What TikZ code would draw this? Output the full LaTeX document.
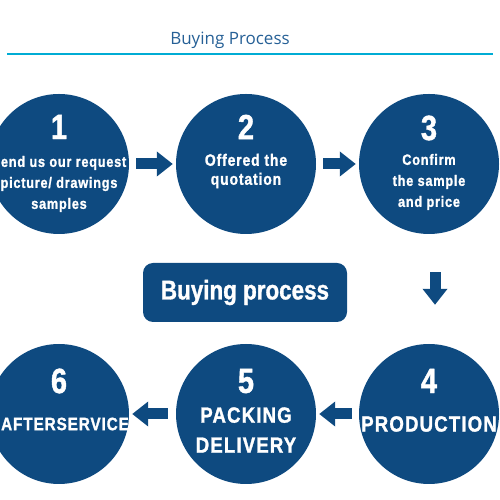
\documentclass[tikz,border=0pt]{standalone}
\usepackage{fontspec}
\usetikzlibrary{arrows.meta,positioning}
\setmainfont{Open Sans}
\newfontfamily\stepfont[FakeStretch=0.85,LetterSpace=5,FakeBold=1.2]{Liberation Sans}
\newfontfamily\boxfont[FakeStretch=0.83,FakeBold=1.2]{Liberation Sans}
\definecolor{stepblue}{RGB}{14,74,128}
\definecolor{titleblue}{RGB}{38,96,150}
\definecolor{linecyan}{RGB}{0,172,212}
\tikzset{
  stepcircle/.style={circle, fill=stepblue, minimum size=140pt, inner sep=0pt},
  numtext/.style={text=white, font=\boxfont\bfseries\fontsize{35}{35}\selectfont},
  steptext/.style={text=white, align=center, font=\stepfont\bfseries\fontsize{15}{21}\selectfont},
  bigtext/.style={text=white, align=center, font=\stepfont\bfseries\fontsize{22}{30}\selectfont},
  boxtext/.style={rounded corners=10pt, fill=stepblue, text=white, minimum width=204pt, minimum height=59pt, font=\boxfont\bfseries\fontsize{27}{27}\selectfont},
  flow/.style={stepblue, line width=11pt, -{Triangle[width=24pt,length=16pt]}, shorten <=7pt, shorten >=3pt},
}
\begin{document}
\begin{tikzpicture}[x=1pt,y=1pt]
\useasboundingbox (0,0) rectangle (500,500);
\clip (0,0) rectangle (500,500);
%heading
\node[anchor=base, text=titleblue, font=\fontsize{17}{17}\selectfont] (title) at (230,455) {Buying Process};
\draw[linecyan, line width=2pt] (7,446) -- (493,446);
%top row
\node[stepcircle] (c1) at (59,336) {};
\node[stepcircle] (c2) at (246,336) {};
\node[stepcircle] (c3) at (429,336) {};
\node[numtext] (n1) at ([yshift=37pt]c1.center) {1};
\node[numtext] (n2) at ([yshift=37pt]c2.center) {2};
\node[numtext] (n3) at ([yshift=36pt]c3.center) {3};
\node[steptext] (t1) at ([yshift=-20pt]c1.center) {Send us our request\\picture/ drawings\\samples};
\node[steptext, font=\stepfont\bfseries\fontsize{16.5}{19}\selectfont] (t2) at ([yshift=-7pt]c2.center) {Offered the\\quotation};
\node[steptext] (t3) at ([yshift=-18pt]c3.center) {Confirm\\the sample\\and price};
%middle
\node[boxtext] (bp) at (245,207.5) {Buying process};
%bottom row
\node[stepcircle] (c4) at (429,86) {};
\node[stepcircle] (c5) at (246,86) {};
\node[stepcircle] (c6) at (59,86) {};
\node[numtext] (n4) at ([yshift=33pt]c4.center) {4};
\node[numtext] (n5) at ([yshift=33pt]c5.center) {5};
\node[numtext] (n6) at ([yshift=33pt]c6.center) {6};
\node[bigtext] (t4) at ([yshift=-10pt]c4.center) {PRODUCTION};
\node[bigtext] (t5) at ([yshift=-16pt]c5.center) {PACKING\\DELIVERY};
\node[bigtext, font=\stepfont\bfseries\fontsize{18}{22}\selectfont] (t6) at ([xshift=6pt,yshift=-10pt]c6.center) {AFTERSERVICE};
%arrows
\draw[flow] (c1) -- (c2);
\draw[flow] (c2) -- (c3);
\draw[flow, shorten <=38pt, shorten >=39pt] ([xshift=6pt]c3.south) -- ([xshift=6pt]c4.north);
\draw[flow] (c4) -- (c5);
\draw[flow, shorten <=8pt] (c5) -- (c6);
\end{tikzpicture}
\end{document}
